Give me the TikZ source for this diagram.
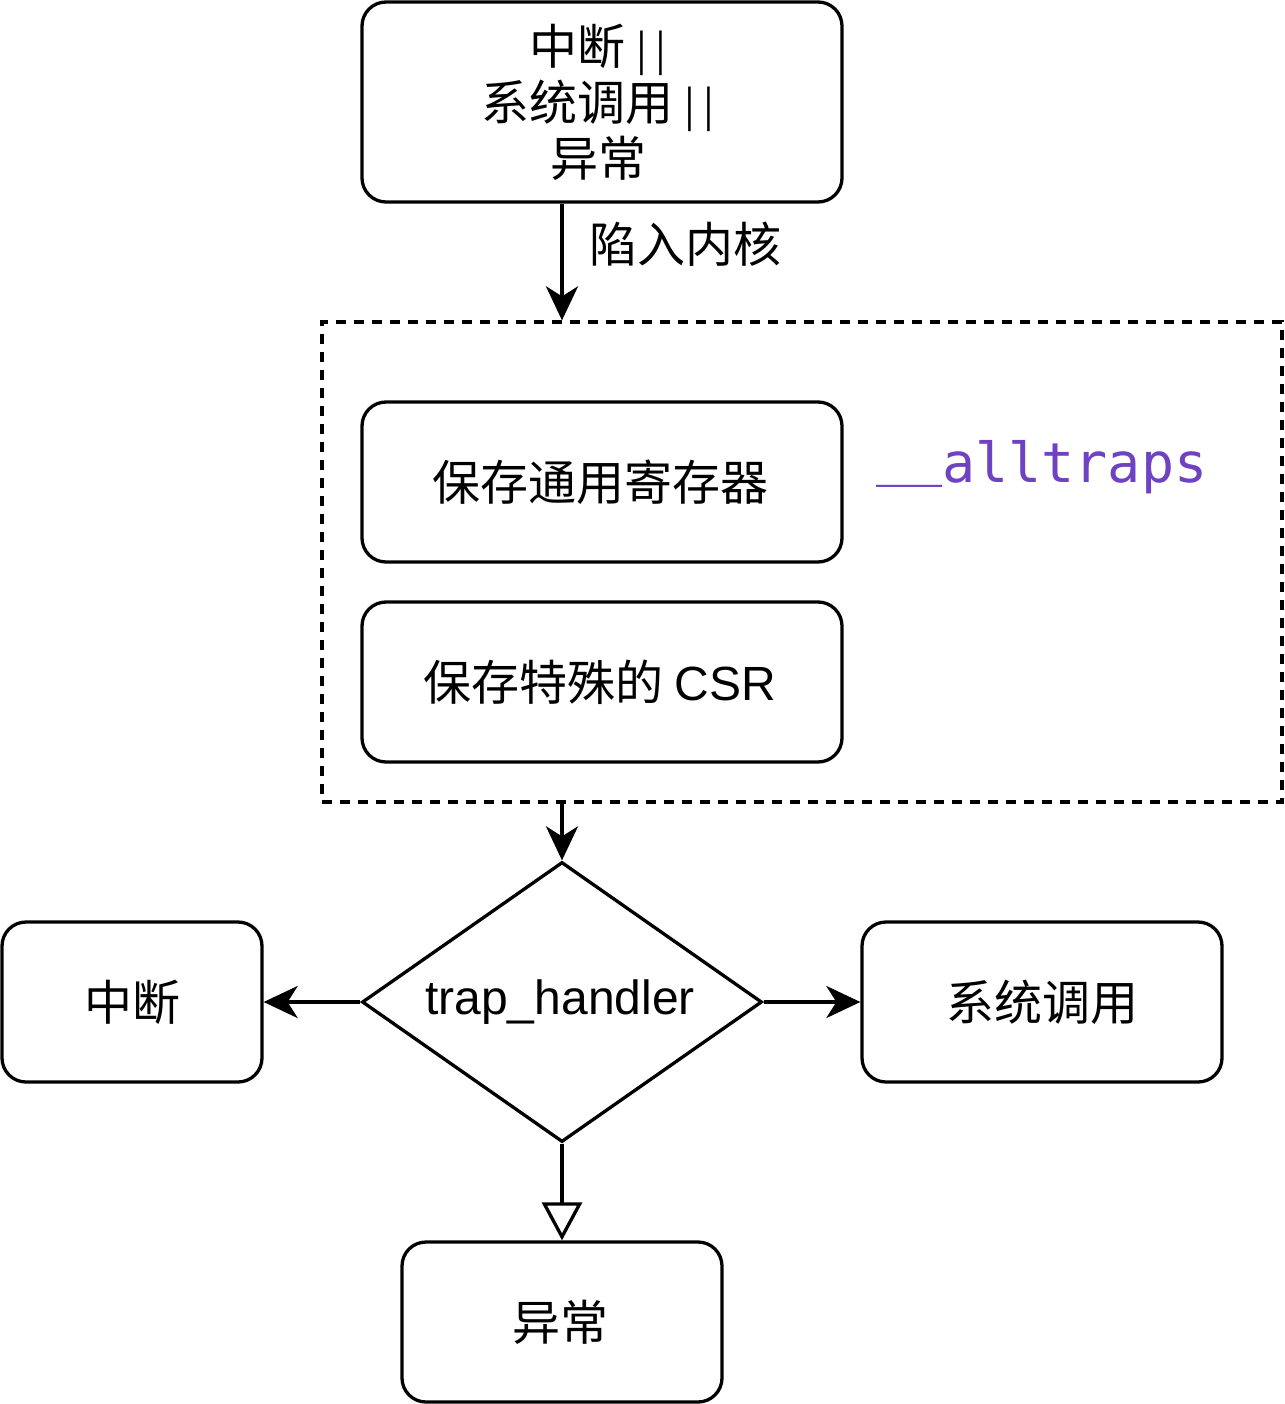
\documentclass[tikz,border=0pt]{standalone}
\usepackage{fontspec}
\setmainfont{Liberation Sans}
\newfontfamily\cjk{Noto Sans CJK SC}
\newfontfamily\monof{DejaVu Sans Mono}
\usetikzlibrary{arrows.meta,shapes.geometric}
\definecolor{trappurple}{HTML}{6F42C1}
\begin{document}
\begin{tikzpicture}[x=1pt,y=-1pt,
  box/.style={draw,line width=3.3pt,rounded corners=24pt,inner sep=0pt,align=center,
    font=\cjk\fontsize{48}{56}\selectfont},
  conn/.style={line width=3.3pt,-{Stealth[length=34pt,width=32pt,inset=10pt]}},
  openconn/.style={line width=3.3pt,-{Triangle[open,length=38pt,width=40pt]}},
]
\useasboundingbox (0,0) rectangle (1284,1404);
\node[box,minimum width=480pt,minimum height=200pt] (top) at (602,102) {\hspace*{-8pt}中断 {\fontsize{40}{56}\selectfont| |}\\\hspace*{-8pt}系统调用 {\fontsize{40}{56}\selectfont| |}\\\hspace*{-8pt}异常};
\node[draw,line width=3.3pt,dash pattern=on 10pt off 8pt,minimum width=960pt,minimum height=480pt,inner sep=0pt] (grp) at (802,562) {};
\node[box,minimum width=480pt,minimum height=160pt] (gen) at (602,482) {\hspace*{-4pt}保存通用寄存器};
\node[box,minimum width=480pt,minimum height=160pt] (csr) at (602,682) {\hspace*{-4pt}保存特殊的 {\normalfont CSR}};
\node[anchor=base west,inner sep=0pt,text=trappurple,font=\monof\fontsize{55}{60}\selectfont] (at) at (876,482) {\raisebox{8pt}{\_\_}alltraps};
\node[draw,diamond,line width=3.3pt,minimum width=400pt,minimum height=280pt,shape aspect=1.4286,inner sep=0pt,
  font=\fontsize{48}{56}\selectfont] (d) at (562,1002) {\raisebox{6pt}{trap\_handler}\hspace*{4pt}};
\node[box,minimum width=260pt,minimum height=160pt] (intr) at (132,1002) {中断};
\node[box,minimum width=360pt,minimum height=160pt] (sys) at (1042,1002) {系统调用};
\node[box,minimum width=320pt,minimum height=160pt] (exc) at (562,1322) {\hspace*{-4pt}异常};
\draw[conn] (top.south -| d.north) -- node[pos=0.35,anchor=west,xshift=26pt,font=\cjk\fontsize{48}{56}\selectfont,inner sep=0pt] (lbl) {陷入内核} (grp.north -| d.north);
\draw[conn] (grp.south -| d.north) -- (d.north);
\draw[conn] (d.west) -- (intr.east);
\draw[conn] (d.east) -- (sys.west);
\draw[openconn] (d.south) -- (exc.north);
\end{tikzpicture}
\end{document}
